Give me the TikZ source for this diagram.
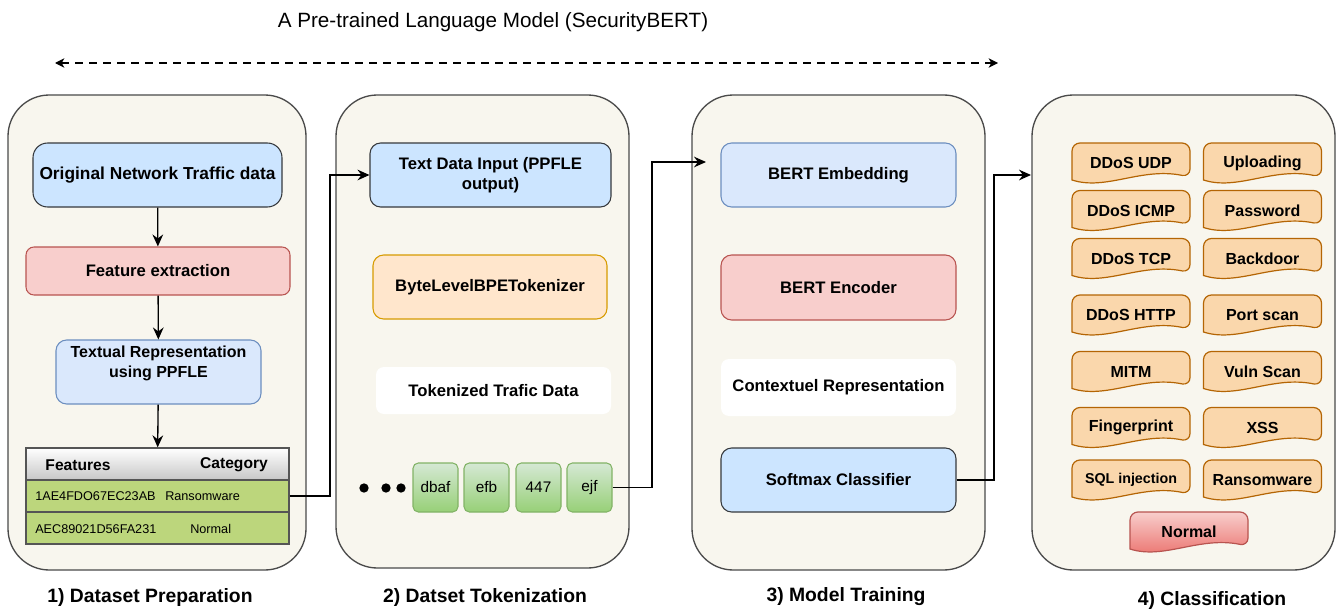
\documentclass[tikz,border=0pt]{standalone}
\usepackage{fontspec}
\setmainfont{Liberation Sans}
\usetikzlibrary{arrows.meta,calc}

\definecolor{panelfill}{HTML}{F8F6EE}
\definecolor{paneldraw}{HTML}{4A4A4A}
\definecolor{bluefill}{HTML}{CCE5FF}
\definecolor{bluedraw}{HTML}{36393D}
\definecolor{lbluefill}{HTML}{DAE8FC}
\definecolor{lbluedraw}{HTML}{6C8EBF}
\definecolor{redfill}{HTML}{F8CECC}
\definecolor{reddraw}{HTML}{B85450}
\definecolor{orfill}{HTML}{FFE6CC}
\definecolor{ordraw}{HTML}{D79B00}
\definecolor{tagfill}{HTML}{FAD7AC}
\definecolor{tagdraw}{HTML}{B46504}
\definecolor{rowfill}{HTML}{BCD67C}
\definecolor{tabledraw}{HTML}{555555}
\definecolor{tokdraw}{HTML}{82B366}
\definecolor{toktop}{HTML}{D5E8D4}
\definecolor{tokbot}{HTML}{97D077}
\definecolor{normtop}{HTML}{F8CECC}
\definecolor{normbot}{HTML}{EA6B66}

\tikzset{
  panel/.style={draw=paneldraw, fill=panelfill, line width=1pt, rounded corners=31pt},
  stagebox/.style={rounded corners=8pt, line width=0.8pt, align=center,
    font=\fontsize{12.5}{15}\selectfont\bfseries, inner sep=2pt},
  plainbox/.style={rounded corners=6pt, fill=white, align=center,
    font=\fontsize{12.5}{15}\selectfont\bfseries},
  conn/.style={line width=1pt, -{Stealth[length=9pt,width=8pt,inset=3pt]}},
  tagshape/.style={draw=tagdraw, fill=tagfill, line width=0.9pt},
  tagtext/.style={inner sep=0pt, font=\fontsize{12}{14}\selectfont\bfseries},
  tokbox/.style={draw=tokdraw, top color=toktop, bottom color=tokbot,
    rounded corners=4pt, line width=0.8pt, minimum width=33.75pt,
    minimum height=36.75pt, inner sep=0pt, font=\fontsize{11.5}{13}\selectfont},
  tablerow/.style={draw=tabledraw, line width=1pt, minimum width=197.25pt,
    minimum height=24pt, inner sep=0pt},
  caption/.style={font=\fontsize{14.5}{17}\selectfont\bfseries},
  dotmark/.style={fill=black, circle, inner sep=0pt, minimum size=7pt}
}

% a class card: flat rounded top, wavy bottom edge, label centred on it
% [label style]{name}{x}{y}{label}{outline style}
\newcommand\tagcard[6][]{%
  \draw[tagshape,#6,rounded corners=6pt]
    (#3-59,#4+17) -- (#3-59,#4-20) -- (#3+59,#4-20) -- (#3+59,#4+14)
    [sharp corners] .. controls (#3+10,#4+4) and (#3-25,#4+28) .. (#3-59,#4+17) -- cycle;
  \node[tagtext,#1] (#2) at (#3,#4) {#5};}

\begin{document}
\begin{tikzpicture}[x=0.75pt, y=-0.75pt]
\useasboundingbox (0,0) rectangle (1339,610);

% heading and the span of the language model
\node[font=\fontsize{15.5}{18}\selectfont] (title) at (493,22)
  {A Pre-trained Language Model (SecurityBERT)};
\coordinate (spanL) at (55,63);
\coordinate (spanR) at (998,63);
\draw[line width=1pt, dash pattern=on 6pt off 4.5pt,
  {Stealth[length=7pt,width=7pt,inset=2pt]}-{Stealth[length=7pt,width=7pt,inset=2pt]}]
  (spanL) -- (spanR);

% the four stage panels
\node[panel, minimum width=223.5pt, minimum height=356.25pt] (p1) at (157,332.5) {};
\node[panel, minimum width=219.75pt, minimum height=354.75pt] (p2) at (482.5,331.5) {};
\node[panel, minimum width=219.75pt, minimum height=356.25pt] (p3) at (838.5,332.5) {};
\node[panel, minimum width=227.25pt, minimum height=356.25pt] (p4) at (1183.5,332.5) {};

% --- 1) dataset preparation
\node[stagebox, draw=bluedraw, fill=bluefill, rounded corners=11pt,
  minimum width=186.75pt, minimum height=48pt,
  font=\fontsize{13}{15}\selectfont\bfseries] (orig) at (157.5,175)
  {Original Network Traffic data};
\node[stagebox, draw=reddraw, fill=redfill, rounded corners=6pt,
  minimum width=198pt, minimum height=36pt] (feat) at (158,271)
  {Feature extraction};
\node[stagebox, draw=lbluedraw, fill=lbluefill,
  minimum width=153.75pt, minimum height=48pt] (txt) at (158.5,372) {};
\node[font=\fontsize{12}{15}\selectfont\bfseries, align=center] (txtlabel) at (158.5,363)
  {Textual Representation\\using PPFLE};
\node[tablerow, top color=white, bottom color=black!22] (thead) at (157.5,464) {};
\node[tablerow, fill=rowfill] (row1) at (157.5,496) {};
\node[tablerow, fill=rowfill] (row2) at (157.5,528) {};
\node[font=\fontsize{11.7}{14}\selectfont\bfseries] (hfeat) at (78,465) {Features};
\node[font=\fontsize{11.7}{14}\selectfont\bfseries] (hcat) at (234,465) {Category};
\node[font=\fontsize{9.5}{11}\selectfont, anchor=west, inner sep=0pt] (r1a) at (35,496) {1AE4FDO67EC23AB};
\node[font=\fontsize{9.5}{11}\selectfont, anchor=west, inner sep=0pt] (r1b) at (165,496) {Ransomware};
\node[font=\fontsize{9.5}{11}\selectfont, anchor=west, inner sep=0pt] (r2a) at (35,529) {AEC89021D56FA231};
\node[font=\fontsize{9.5}{11}\selectfont, anchor=west, inner sep=0pt] (r2b) at (190,529) {Normal};

\draw[conn] (orig) -- (feat);
\draw[conn] (feat) -- (txt);
\draw[conn] (txt) -- (thead);

% --- 2) dataset tokenization
\node[stagebox, draw=bluedraw, fill=bluefill,
  minimum width=180.75pt, minimum height=48pt] (tdi) at (490.5,175)
  {Text Data Input (PPFLE\\output)};
\node[stagebox, draw=ordraw, fill=orfill,
  minimum width=175.5pt, minimum height=48pt] (bpe) at (490,287)
  {ByteLevelBPETokenizer};
\node[plainbox, minimum width=176.25pt, minimum height=35.25pt] (tokd) at (493.5,390.5)
  {Tokenized Trafic Data};
\node[dotmark] (d1) at (364,488) {};
\node[dotmark] (d2) at (386,488) {};
\node[dotmark] (d3) at (401,488) {};
\node[tokbox] (t1) at (435.5,487.5) {dbaf};
\node[tokbox] (t2) at (486.5,487.5) {efb};
\node[tokbox] (t3) at (538.5,487.5) {447};
\node[tokbox] (t4) at (589.5,487.5) {ejf};

% --- 3) model training
\node[stagebox, draw=lbluedraw, fill=lbluefill,
  minimum width=176.25pt, minimum height=48pt] (emb) at (838.5,175)
  {BERT Embedding};
\node[stagebox, draw=reddraw, fill=redfill,
  minimum width=176.25pt, minimum height=48.75pt] (enc) at (838.5,287.5)
  {BERT Encoder};
\node[plainbox, minimum width=176.25pt, minimum height=42.75pt] (ctx) at (838.5,387.5)
  {Contextuel Representation};
\node[stagebox, draw=bluedraw, fill=bluefill,
  minimum width=176.25pt, minimum height=48pt] (soft) at (838.5,480)
  {Softmax Classifier};

% --- 4) classification
\tagcard{c1}{1131}{163}{DDoS UDP}{}
\tagcard{c2}{1262.5}{163}{Uploading}{}
\tagcard{c3}{1131}{210.5}{DDoS ICMP}{}
\tagcard{c4}{1262.5}{210.5}{Password}{}
\tagcard{c5}{1131}{258.5}{DDoS TCP}{}
\tagcard{c6}{1262.5}{258.5}{Backdoor}{}
\tagcard{c7}{1131}{315}{DDoS HTTP}{}
\tagcard{c8}{1262.5}{315}{Port scan}{}
\tagcard{c9}{1131}{371.5}{MITM}{}
\tagcard{c10}{1262.5}{371.5}{Vuln Scan}{}
\tagcard{c11}{1131}{427.5}{Fingerprint}{}
\tagcard{c12}{1262.5}{427.5}{XSS}{}
\tagcard[font=\fontsize{10.7}{13}\selectfont\bfseries]{c13}{1131}{480}{SQL injection}{}
\tagcard{c14}{1262.5}{480}{Ransomware}{}
\tagcard{c15}{1189}{532}{Normal}{draw=reddraw, top color=normtop, bottom color=normbot}

% links between the stages
\coordinate (j1) at (330,0);
\draw[conn] (row1.east) -- (row1.east -| j1) -- (j1 |- tdi.west) -- (tdi.west);
\coordinate (j2) at (652,0);
\coordinate (e3) at (706,162);
\draw[conn] (t4.east) -- (t4.east -| j2) -- (j2 |- e3) -- (e3);
\coordinate (j3) at (994,0);
\coordinate (e4) at (1031,175);
\draw[conn] (soft.east) -- (soft.east -| j3) -- (j3 |- e4) -- (e4);

% stage captions
\node[caption] (cap1) at (150,597) {1) Dataset Preparation};
\node[caption] (cap2) at (485,597) {2) Datset Tokenization};
\node[caption] (cap3) at (846,597) {3) Model Training};
\node[caption] (cap4) at (1212,600) {4) Classification};
\end{tikzpicture}
\end{document}
